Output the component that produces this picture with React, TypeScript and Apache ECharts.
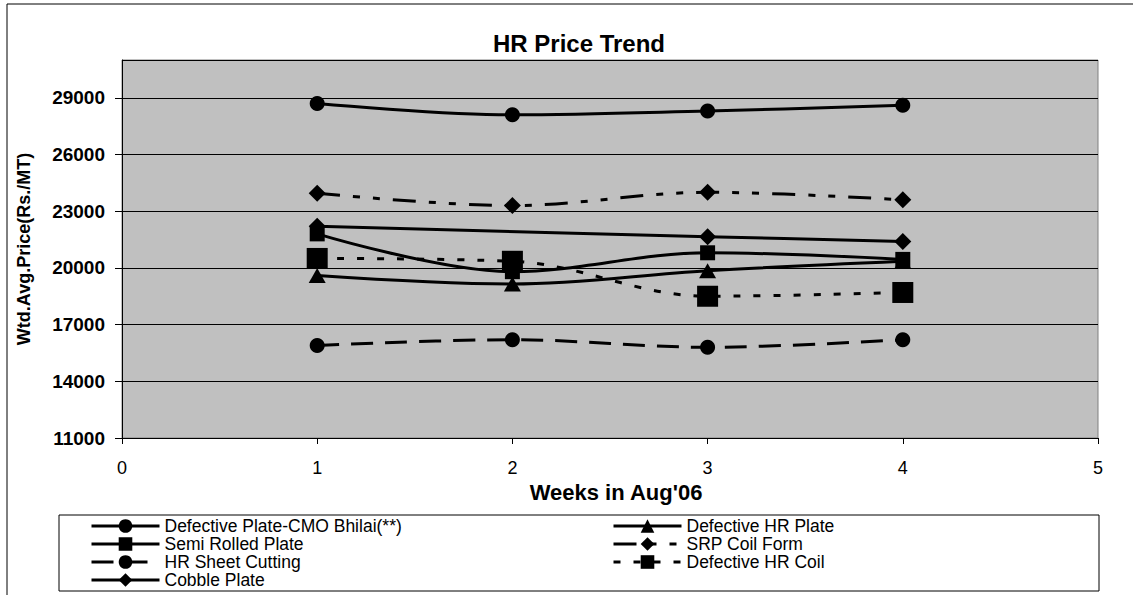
import React, { useEffect, useRef } from "react";
import * as echarts from "echarts";

// Week numbers along the x axis
const weeks = [1, 2, 3, 4];

// Weighted average price (Rs./MT) per week for each product
const bhilaiPlate = [28700, 28100, 28300, 28600];
const defectiveHrPlate = [19600, 19150, 19850, 20350];
const semiRolledPlate = [21800, 19800, 20800, 20450];
const srpCoilForm = [23950, 23300, 24000, 23600];
const hrSheetCutting = [15900, 16200, 15800, 16200];
const defectiveHrCoil = [20500, 20350, 18500, 18700];
const cobblePlate = [22200, null, 21650, 21400];

const seriesNames = [
  "Defective Plate-CMO Bhilai(**)",
  "Defective HR Plate",
  "Semi Rolled Plate",
  "SRP Coil Form",
  "HR Sheet Cutting",
  "Defective HR Coil",
  "Cobble Plate",
];

const yMin = 11000;
const yMax = 31000;
const yStep = 3000;

const FONT = "'Liberation Sans', Arial, Helvetica, sans-serif";

function toPoints(values: (number | null)[]) {
  return weeks.map((w, i) => [w, values[i] === null ? "-" : values[i]]);
}

function lineSeries(
  name: string,
  values: (number | null)[],
  symbol: string,
  symbolSize: number | number[],
  dash: "solid" | number[]
) {
  return {
    name,
    type: "line",
    data: toPoints(values),
    symbol,
    symbolSize,
    smooth: 0.35,
    connectNulls: true,
    showAllSymbol: true,
    lineStyle: { color: "#000", width: 3, type: dash, cap: "butt" },
    itemStyle: { color: "#000", borderWidth: 0 },
    emphasis: { disabled: true },
  };
}

export default function App() {
  const ref = useRef<HTMLDivElement>(null);

  useEffect(() => {
    if (!ref.current) return;
    const chart = echarts.init(ref.current, undefined, { renderer: "svg" });

    const legendText = { fontFamily: FONT, fontSize: 17.5, color: "#000", lineHeight: 17 };
    const legendBase = {
      orient: "vertical",
      top: 517,
      padding: 0,
      itemWidth: 68,
      itemHeight: 17,
      itemGap: 0,
      selectedMode: false,
      textStyle: legendText,
      lineStyle: { width: 3 },
    };

    chart.setOption({
      animation: false,
      backgroundColor: "#fff",
      title: {
        text: "HR Price Trend",
        left: 574,
        top: 26,
        textAlign: "center",
        textStyle: { fontFamily: FONT, fontSize: 24, fontWeight: "bold", color: "#000" },
      },
      legend: [
        { ...legendBase, left: 90, data: [seriesNames[0], seriesNames[2], seriesNames[4], seriesNames[6]] },
        { ...legendBase, left: 612, data: [seriesNames[1], seriesNames[3], seriesNames[5]] },
      ],
      graphic: [
        {
          type: "rect",
          shape: { x: 7, y: 4, width: 1140, height: 600 },
          style: { fill: "none", stroke: "#000", lineWidth: 1 },
          silent: true,
        },
        {
          type: "rect",
          shape: { x: 59, y: 515, width: 1040, height: 76 },
          style: { fill: "none", stroke: "#000", lineWidth: 1 },
          silent: true,
        },
      ],
      grid: {
        left: 122,
        right: 35,
        top: 60,
        bottom: 157,
        show: true,
        backgroundColor: "#C0C0C0",
        borderColor: "#808080",
        borderWidth: 1,
      },
      xAxis: {
        type: "value",
        min: 0,
        max: 5,
        interval: 1,
        name: "Weeks in Aug'06",
        nameLocation: "middle",
        nameGap: 38,
        nameTextStyle: {
          fontFamily: FONT,
          fontSize: 22,
          fontWeight: "bold",
          color: "#000",
          padding: [0, 0, 0, 12],
        },
        axisLine: { show: true, onZero: false, lineStyle: { color: "#000", width: 1 } },
        axisTick: { show: true, length: 6, lineStyle: { color: "#000" } },
        axisLabel: { fontFamily: FONT, fontSize: 18, color: "#000", margin: 21 },
        splitLine: { show: false },
      },
      yAxis: {
        type: "value",
        min: yMin,
        max: yMax,
        interval: yStep,
        name: "Wtd.Avg.Price(Rs./MT)",
        nameLocation: "middle",
        nameGap: 89,
        nameTextStyle: { fontFamily: FONT, fontSize: 18, fontWeight: "bold", color: "#000" },
        axisLine: { show: true, lineStyle: { color: "#000", width: 1 } },
        axisTick: { show: true, length: 7, lineStyle: { color: "#000" } },
        axisLabel: {
          fontFamily: FONT,
          fontSize: 19,
          fontWeight: "bold",
          color: "#000",
          margin: 17,
          showMaxLabel: false,
          formatter: (v: number) => String(v),
        },
        splitLine: { show: true, lineStyle: { color: "#000", width: 1 } },
      },
      series: [
        lineSeries(seriesNames[0], bhilaiPlate, "circle", 15, "solid"),
        lineSeries(seriesNames[1], defectiveHrPlate, "triangle", [17, 15], "solid"),
        lineSeries(seriesNames[2], semiRolledPlate, "rect", 15, "solid"),
        lineSeries(seriesNames[3], srpCoilForm, "diamond", 17, [23, 13, 7, 13, 7, 13]),
        lineSeries(seriesNames[4], hrSheetCutting, "circle", 15, [22, 12]),
        lineSeries(seriesNames[5], defectiveHrCoil, "rect", 21, [7, 13]),
        lineSeries(seriesNames[6], cobblePlate, "diamond", 17, "solid"),
      ],
    });

    return () => chart.dispose();
  }, []);

  return (
    <div
      ref={ref}
      style={{ position: "absolute", left: 0, top: 0, width: 1133, height: 595, background: "#fff" }}
    />
  );
}
